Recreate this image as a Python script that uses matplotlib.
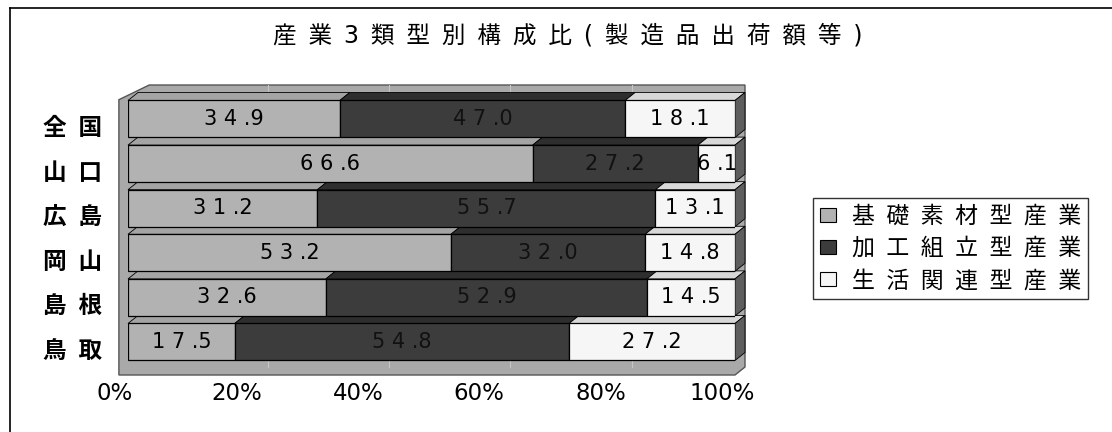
import matplotlib
matplotlib.use('Agg')
import matplotlib.pyplot as plt
from matplotlib.patches import Polygon, Patch
from matplotlib.lines import Line2D
from matplotlib.transforms import ScaledTranslation, blended_transform_factory

# 数字は DejaVu、漢字は Noto CJK にフォールバック
FONTS = ['DejaVu Sans', 'Noto Sans CJK JP']
plt.rcParams['font.family'] = FONTS

title = '産業3類型別構成比(製造品出荷額等)'
regions = ['全国', '山口', '広島', '岡山', '島根', '鳥取']
kiso = [34.9, 66.6, 31.2, 53.2, 32.6, 17.5]       # 基礎素材型産業
kako = [47.0, 27.2, 55.7, 32.0, 52.9, 54.8]       # 加工組立型産業
seikatsu = [18.1, 6.1, 13.1, 14.8, 14.5, 27.2]    # 生活関連型産業
series_names = ['基礎素材型産業', '加工組立型産業', '生活関連型産業']
xticks = [0, 20, 40, 60, 80, 100]

front_colors = ['#b2b2b2', '#3c3c3c', '#f6f6f6']
top_colors = ['#a4a4a4', '#2e2e2e', '#d8d8d8']
text_colors = ['black', '#111111', 'black']
wall_color = '#a9a9a9'

EN = '\u2002'


def spaced(s, sep=EN):
    return sep.join(list(s))


def value_label(v):
    a, b = f'{v:.1f}'.split('.')
    return ' '.join(list(a)) + ' .' + b


W, H = 1112, 432
fig = plt.figure(figsize=(W / 100, H / 100), dpi=100)
fig.patch.set_facecolor('white')

# 棒の正面: 0% = 128px, 100% = 735px, 縦 85px〜375px
ax = fig.add_axes([128 / W, (H - 375) / H, 607 / W, 290 / H])
ylow, ytop = -0.74, 5.762
ax.set_xlim(0, 100)
ax.set_ylim(ylow, ytop)
ax.axis('off')

px_x = 607 / 100
px_y = 290 / (ytop - ylow)
dxu = 10 / px_x      # 奥行き
dyu = 8 / px_y
h = 37 / px_y

ypos = list(range(len(regions)))[::-1]

# 壁と床
wall = Polygon([(-1.5, ylow), (-1.5, ytop - 0.33), (3.5, ytop),
                (100 + dxu, ytop), (100 + dxu, ylow + dyu), (100, ylow)],
               closed=True, facecolor=wall_color, edgecolor='#555555',
               lw=1.0, zorder=0, clip_on=False)
ax.add_patch(wall)
for t in xticks[1:-1]:
    ax.plot([t + 3, t + 3], [ylow + dyu, ytop], color='#c6c6c6', lw=0.8, zorder=0.5)

# 100% 積み上げ
series = [kiso, kako, seikatsu]
totals = [sum(vals) for vals in zip(*series)]
lefts = [0.0] * len(regions)
for k, vals in enumerate(series):
    widths = [v / t * 100 for v, t in zip(vals, totals)]
    ax.barh(ypos, widths, left=lefts, height=h, color=front_colors[k],
            edgecolor='black', lw=0.9, zorder=3)
    for y, l, w, v in zip(ypos, lefts, widths, vals):
        top = y + h / 2
        ax.add_patch(Polygon([(l, top), (l + w, top), (l + w + dxu, top + dyu),
                              (l + dxu, top + dyu)], closed=True,
                             facecolor=top_colors[k], edgecolor='black',
                             lw=0.6, zorder=2, clip_on=False))
        ax.text(l + w / 2, y, value_label(v), ha='center', va='center',
                fontsize=15, color=text_colors[k], zorder=5)
    lefts = [l + w for l, w in zip(lefts, widths)]

# 右側面
for y in ypos:
    ax.add_patch(Polygon([(100, y - h / 2), (100, y + h / 2),
                          (100 + dxu, y + h / 2 + dyu), (100 + dxu, y - h / 2 + dyu)],
                         closed=True, facecolor='#5e5e5e', edgecolor='black',
                         lw=0.6, zorder=2, clip_on=False))

# カテゴリ軸ラベル
cat_off = ax.transData + ScaledTranslation(-26 / 100, -9 / 100, fig.dpi_scale_trans)
for y, name in zip(ypos, regions):
    ax.text(0, y, spaced(name), ha='right', va='center', fontsize=17,
            fontweight='bold', transform=cat_off)

# 目盛ラベル
tick_tr = blended_transform_factory(ax.transData, ax.transAxes) + \
    ScaledTranslation(-13 / 100, 0, fig.dpi_scale_trans)
for t in xticks:
    ax.text(t, -18 / 290, f'{t}%', ha='center', va='center', fontsize=16.5,
            transform=tick_tr)

# タイトル
fig.text(568 / W, 1 - 35 / H, spaced(title), ha='center', va='center', fontsize=17)

# 凡例
handles = [Patch(facecolor=c, edgecolor='black', lw=0.8) for c in front_colors]
leg = fig.legend(handles, [spaced(s) for s in series_names],
                 loc='upper left', bbox_to_anchor=(813 / W, 1 - 198 / H),
                 borderaxespad=0, frameon=True, fancybox=False,
                 prop={'family': FONTS, 'size': 16.5},
                 handlelength=0.7, handleheight=0.55, handletextpad=0.7,
                 labelspacing=0.4, borderpad=0.3)
leg.get_frame().set_edgecolor('black')
leg.get_frame().set_linewidth(1.0)

# 外枠 (左と上のみ見える)
fig.add_artist(Line2D([10 / W, 10 / W], [0, 1 - 8 / H], color='black', lw=1.2))
fig.add_artist(Line2D([10 / W, 1], [1 - 8 / H, 1 - 8 / H], color='black', lw=1.2))

fig.savefig('out.png', dpi=100)
